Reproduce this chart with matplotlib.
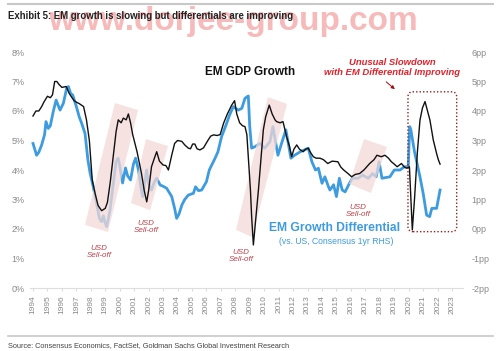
import numpy as np
import matplotlib
matplotlib.use("Agg")
from matplotlib import pyplot as plt
from matplotlib.patches import Polygon, FancyBboxPatch

plt.rcParams['font.family'] = ['Liberation Sans', 'DejaVu Sans']

# EM GDP growth (left axis, %)
gdp_t = [1994.0, 1994.2, 1994.4, 1994.6, 1994.75, 1995.0, 1995.2, 1995.35, 1995.5, 1995.65,
         1995.8, 1996.0, 1996.3, 1996.5, 1996.7, 1996.85, 1997.0, 1997.2, 1997.5, 1997.7,
         1997.9, 1998.1, 1998.3, 1998.5, 1998.75, 1999.0, 1999.15, 1999.35, 1999.55, 1999.75,
         1999.9, 2000.1, 2000.25, 2000.45, 2000.6, 2000.75, 2000.9, 2001.2, 2001.5, 2001.7,
         2001.87, 2002.0, 2002.2, 2002.4, 2002.56, 2002.75, 2003.0, 2003.2, 2003.37, 2003.6,
         2003.8, 2004.0, 2004.3, 2004.5, 2004.75, 2004.9, 2005.05, 2005.2, 2005.35, 2005.55,
         2005.8, 2006.1, 2006.3, 2006.5, 2006.75, 2006.95, 2007.2, 2007.45, 2007.75, 2007.95,
         2008.1, 2008.3, 2008.5, 2008.67, 2008.8, 2008.9, 2009.05, 2009.13, 2009.25, 2009.45,
         2009.6, 2009.8, 2009.94, 2010.1, 2010.35, 2010.55, 2010.75, 2010.86, 2011.1, 2011.3,
         2011.55, 2011.75, 2011.9, 2012.05, 2012.25, 2012.45, 2012.7, 2012.85, 2013.05, 2013.2,
         2013.4, 2013.6, 2013.86, 2014.1, 2014.4, 2014.7, 2015.1, 2015.3, 2015.5, 2015.8,
         2016.05, 2016.3, 2016.6, 2016.9, 2017.3, 2017.6, 2017.8, 2018.1, 2018.36, 2018.6,
         2018.8, 2019.0, 2019.2, 2019.5, 2019.7, 2019.86, 2020.05, 2020.15, 2020.25, 2020.4,
         2020.6, 2020.78, 2020.95, 2021.13, 2021.3, 2021.47, 2021.7, 2021.93, 2022.05, 2022.17]
gdp_v = [5.83, 6.0, 6.0, 6.15, 6.3, 6.5, 6.45, 6.55, 7.0, 7.0,
         6.9, 6.8, 6.83, 6.6, 6.45, 6.35, 6.3, 6.25, 6.15, 5.7,
         5.0, 3.66, 3.2, 2.8, 2.62, 2.7, 2.9, 3.6, 4.45, 5.3,
         5.7, 5.6, 5.76, 5.7, 5.9, 5.6, 5.2, 4.62, 3.9, 3.3,
         2.92, 3.3, 4.11, 4.4, 4.62, 4.3, 4.17, 4.15, 4.0, 4.5,
         4.9, 5.0, 4.97, 4.85, 4.74, 4.72, 4.88, 4.88, 4.72, 4.68,
         4.75, 5.0, 5.15, 5.19, 5.17, 5.2, 5.6, 5.9, 6.2, 6.35,
         5.9, 5.6, 5.5, 5.47, 5.2, 4.45, 3.3, 2.43, 1.46, 2.5,
         3.32, 4.5, 5.36, 5.8, 6.2, 5.9, 5.7, 5.64, 5.6, 5.64,
         5.13, 4.8, 4.45, 4.7, 4.85, 4.7, 4.62, 4.7, 4.74, 4.6,
         4.45, 4.4, 4.4, 4.35, 4.22, 4.3, 4.28, 4.1, 4.0, 3.88,
         3.77, 3.85, 3.88, 4.0, 4.22, 4.35, 4.5, 4.45, 4.5, 4.4,
         4.28, 4.2, 4.11, 4.22, 4.1, 4.06, 4.11, 3.0, 1.97, 3.0,
         4.6, 5.69, 6.1, 6.32, 6.0, 5.69, 5.02, 4.56, 4.35, 4.2]

# EM growth differential vs US (right axis, pp)
diff_t = [1994.0, 1994.25, 1994.4, 1994.6, 1994.8, 1994.9, 1995.06, 1995.2, 1995.4, 1995.6,
          1995.87, 1996.1, 1996.33, 1996.45, 1996.6, 1996.75, 1997.0, 1997.2, 1997.37, 1997.6,
          1997.8, 1997.95, 1998.17, 1998.4, 1998.6, 1998.75, 1998.87, 1999.0, 1999.1, 1999.33,
          1999.56, 1999.75, 1999.9, 2000.05, 2000.2, 2000.4, 2000.55, 2000.75, 2000.95, 2001.1,
          2001.3, 2001.5, 2001.6, 2001.8, 2001.87, 2002.0, 2002.2, 2002.4, 2002.56, 2002.8,
          2003.0, 2003.25, 2003.6, 2003.8, 2003.94, 2004.1, 2004.3, 2004.5, 2004.75, 2005.1,
          2005.25, 2005.45, 2005.67, 2006.0, 2006.2, 2006.6, 2006.8, 2007.05, 2007.4, 2007.6,
          2007.86, 2008.0, 2008.2, 2008.45, 2008.67, 2008.9, 2009.0, 2009.13, 2009.36, 2009.7,
          2010.03, 2010.4, 2010.6, 2010.95, 2011.2, 2011.5, 2011.85, 2012.1, 2012.5, 2013.05,
          2013.3, 2013.55, 2013.75, 2014.0, 2014.2, 2014.45, 2014.55, 2014.8, 2015.0, 2015.2,
          2015.4, 2015.6, 2015.9, 2016.1, 2016.5, 2016.8, 2017.2, 2017.5, 2017.75, 2017.95,
          2018.15, 2018.7, 2019.0, 2019.4, 2019.7, 2019.97, 2020.07, 2020.15, 2020.4, 2020.78,
          2021.0, 2021.24, 2021.45, 2021.6, 2021.93, 2022.17]
diff_v = [2.9, 2.5, 2.6, 2.85, 3.2, 3.64, 3.41, 3.5, 3.98, 4.37,
          4.03, 4.26, 4.77, 4.83, 4.6, 4.54, 4.15, 3.8, 3.58, 3.24,
          2.34, 1.9, 1.43, 0.87, 0.36, 0.25, 0.45, 0.2, 0.08, 0.64,
          1.55, 2.3, 2.4, 2.0, 1.56, 2.07, 1.8, 1.66, 2.2, 2.4,
          2.0, 1.3, 1.1, 1.8, 2.0, 1.55, 1.32, 1.6, 1.72, 1.49,
          1.45, 1.38, 1.1, 0.7, 0.36, 0.5, 0.81, 1.0, 1.15, 1.21,
          1.43, 1.3, 1.32, 1.6, 2.0, 2.4, 2.62, 3.13, 3.58, 3.86,
          4.15, 4.1, 4.03, 4.09, 4.43, 4.51, 3.47, 2.74, 2.79, 2.9,
          2.74, 2.96, 3.47, 2.5, 2.9, 3.36, 2.4, 2.5, 2.62, 2.74,
          2.28, 2.0, 2.06, 1.55, 1.77, 1.43, 1.32, 1.5, 1.1, 1.72,
          1.32, 1.26, 1.55, 1.72, 1.72, 1.83, 1.72, 1.88, 1.77, 2.28,
          1.72, 1.77, 2.0, 2.0, 2.11, 2.11, 3.47, 3.36, 2.62, 1.77,
          1.21, 0.47, 0.42, 0.7, 0.7, 1.32]

years = list(range(1994, 2024))
left_ticks = [0, 1, 2, 3, 4, 5, 6, 7, 8]
right_ticks = [-2, -1, 0, 1, 2, 3, 4, 5, 6]

# tilted "USD sell-off" bands, corners in (year, %)
bands = [
    [(1997.6, 2.14), (1999.19, 1.90), (2001.27, 6.03), (1999.67, 6.27)],
    [(2000.78, 2.88), (2002.1, 2.64), (2003.34, 4.81), (2001.82, 5.05)],
    [(2008.05, 1.97), (2009.16, 1.73), (2011.58, 6.24), (2010.26, 6.47)],
    [(2015.87, 3.53), (2017.39, 3.22), (2018.5, 4.78), (2016.91, 5.05)],
]
selloff_pos = [(1998.57, 1.22), (2001.82, 2.07), (2008.39, 1.08), (2016.49, 2.61)]

black = '#111111'
blue = '#3d9be0'
grey = '#8a8a8a'
selloff_red = '#c0404a'
narrow = ['Liberation Sans Narrow', 'Liberation Sans', 'DejaVu Sans']

fig = plt.figure(figsize=(4.99, 3.51), dpi=100)
W, H = 499, 351
ax = fig.add_axes([30 / W, (H - 288) / H, 433 / W, 236 / H])
ax2 = ax.twinx()

ax.set_xlim(1994 - 3 / 14.45, 1994 + 430 / 14.45)
ax.set_ylim(0, 8)
ax2.set_ylim(-2, 6)

for b in bands:
    ax.add_patch(Polygon(b, closed=True, facecolor='#f3d9d7', edgecolor='none', alpha=0.75, zorder=0))

ax.plot(gdp_t, gdp_v, color=black, lw=1.0, zorder=3)
ax2.plot(diff_t, diff_v, color=blue, lw=2.0, zorder=2)
ax.set_zorder(ax2.get_zorder() + 1)
ax.patch.set_visible(False)

for a in (ax, ax2):
    for s in ('top', 'right', 'left'):
        a.spines[s].set_visible(False)
ax2.spines['bottom'].set_visible(False)
ax.spines['bottom'].set_color('#dddddd')
ax.spines['bottom'].set_linewidth(0.8)

ax.set_xticks(years)
ax.set_xticklabels([str(y) for y in years], rotation=90, fontsize=6, color=grey)
ax.tick_params(axis='x', length=2, color='#dddddd', pad=3)
ax.set_yticks(left_ticks)
ax.set_yticklabels([f'{t}%' for t in left_ticks], fontsize=6.5, color=grey)
ax.tick_params(axis='y', length=0, pad=4)
ax2.set_yticks(right_ticks)
ax2.set_yticklabels([f'{t}pp' for t in right_ticks], fontsize=6.5, color=grey)
ax2.tick_params(axis='y', length=0, pad=6)

ax.text(2009.02, 7.32, 'EM GDP Growth', fontsize=8.5, fontweight='bold', color=black,
        ha='center', va='center', zorder=5)
ax.text(2014.9, 2.03, 'EM Growth Differential', fontsize=8.7, fontweight='bold', color=blue,
        ha='center', va='center', zorder=5)
ax.text(2014.97, 1.59, '(vs. US, Consensus 1yr RHS)', fontsize=6.2, color=blue,
        ha='center', va='center', zorder=5)
for x, y in selloff_pos:
    ax.text(x, y, 'USD\nSell-off', fontsize=5.8, style='italic', color=selloff_red,
            ha='center', va='center', linespacing=1.1, zorder=5)

ax.text(2018.84, 7.49, 'Unusual Slowdown\nwith EM Differential Improving', fontsize=6.8,
        fontweight='bold', style='italic', color='#e0222c', ha='center', va='center',
        linespacing=1.15, zorder=5)
ax.annotate('', xy=(2019.19, 6.68), xytext=(2018.29, 7.05),
            arrowprops=dict(arrowstyle='-|>', color='#a01010', lw=0.7, mutation_scale=5))
box = FancyBboxPatch((2019.95, 1.91), 3.37, 4.74,
                     boxstyle='round,pad=0,rounding_size=0.35', mutation_aspect=0.49,
                     facecolor='none', edgecolor='#9b1c1c', lw=1.0, linestyle=(0, (1, 1.5)),
                     zorder=4)
ax.add_patch(box)

# header / footer
fig.add_artist(plt.Line2D([8 / W, 493 / W], [(H - 4) / H, (H - 4) / H], color='#c8c8c8', lw=1.5))
fig.text(48 / W, (H - 30) / H, 'www.dorjee-group.com', fontsize=24, fontweight='bold',
         color='#f08c8c', alpha=0.6, ha='left', va='baseline')
fig.text(8 / W, (H - 16) / H, 'Exhibit 5: EM growth is slowing but differentials are improving',
         fontsize=6.9, fontweight='bold', color='#222222', ha='left', va='center', family=narrow)
fig.add_artist(plt.Line2D([8 / W, 493 / W], [(H - 336) / H, (H - 336) / H], color='#c8c8c8', lw=1.2))
fig.text(8 / W, (H - 346) / H,
         'Source: Consensus Economics, FactSet, Goldman Sachs Global Investment Research',
         fontsize=5.3, color='#444444', ha='left', va='center', family=narrow)

fig.savefig('out.png', dpi=100)
